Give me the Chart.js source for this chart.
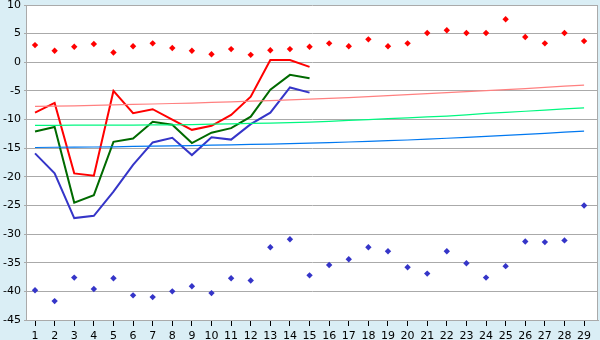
<!DOCTYPE html>
<html>
<head>
<meta charset="utf-8">
<script src="https://cdn.jsdelivr.net/npm/chart.js@4.4.1/dist/chart.umd.min.js"></script>
<style>
  html, body { margin: 0; padding: 0; background: #daeef5; overflow: hidden; }
  #wrap { width: 600px; height: 340px; overflow: hidden; }
</style>
</head>
<body>
<div id="wrap"><canvas id="chart1" width="602" height="340"></canvas></div>
<script>
// categories along the bottom
const days = [1, 2, 3, 4, 5, 6, 7, 8, 9, 10, 11, 12, 13, 14, 15, 16, 17, 18, 19, 20, 21, 22, 23, 24, 25, 26, 27, 28, 29];

// thick lines (first 15 days only)
const redLine = [-8.8, -7.1, -19.4, -19.8, -5.0, -8.9, -8.2, -10.0, -11.8, -11.1, -9.2, -6.0, 0.4, 0.4, -0.8];
const greenLine = [-12.1, -11.3, -24.5, -23.2, -13.9, -13.3, -10.4, -10.9, -14.1, -12.3, -11.5, -9.5, -4.8, -2.2, -2.8];
const blueLine = [-15.9, -19.4, -27.2, -26.8, -22.6, -17.9, -14.0, -13.2, -16.2, -13.1, -13.5, -10.8, -8.8, -4.4, -5.3];

// thin trend lines
const redTrend = [-7.69, -7.66, -7.60, -7.52, -7.43, -7.36, -7.29, -7.20, -7.12, -7.01, -6.91, -6.80, -6.68, -6.56, -6.43,
  -6.29, -6.17, -6.00, -5.82, -5.65, -5.47, -5.30, -5.12, -4.95, -4.77, -4.60, -4.39, -4.18, -3.99];
const greenTrend = [-11.01, -11.01, -10.99, -10.99, -10.98, -10.96, -10.94, -10.93, -10.89, -10.80, -10.75, -10.66, -10.63, -10.54, -10.45,
  -10.31, -10.16, -10.02, -9.84, -9.70, -9.55, -9.39, -9.18, -8.93, -8.74, -8.55, -8.36, -8.13, -7.95];
const blueTrend = [-14.88, -14.84, -14.83, -14.79, -14.76, -14.70, -14.65, -14.60, -14.55, -14.48, -14.42, -14.35, -14.28, -14.21, -14.13,
  -14.02, -13.92, -13.81, -13.69, -13.57, -13.43, -13.27, -13.11, -12.94, -12.76, -12.59, -12.40, -12.20, -12.03];

// scattered markers
const redDots = [3.0, 2.0, 2.7, 3.2, 1.7, 2.8, 3.3, 2.5, 2.0, 1.4, 2.3, 1.3, 2.1, 2.3, 2.7,
  3.3, 2.8, 4.0, 2.8, 3.3, 5.1, 5.6, 5.1, 5.1, 7.5, 4.4, 3.3, 5.1, 3.7];
const blueDots = [-39.8, -41.7, -37.6, -39.6, -37.7, -40.7, -41.0, -40.0, -39.1, -40.3, -37.7, -38.1, -32.3, -30.9, -37.2,
  -35.4, -34.4, -32.3, -33.0, -35.8, -36.9, -33.0, -35.1, -37.6, -35.6, -31.3, -31.4, -31.1, -25.0];

function toPoints(values) {
  return values.map((v, i) => ({ x: days[i], y: v }));
}

function lineSet(values, color, width) {
  return {
    data: toPoints(values),
    borderColor: color,
    borderWidth: width,
    pointRadius: 0,
    tension: 0,
    fill: false
  };
}

function dotSet(values, color) {
  return {
    data: toPoints(values),
    showLine: false,
    pointStyle: 'rectRot',
    pointRadius: 3.2,
    pointBorderWidth: 0,
    pointBackgroundColor: color,
    borderColor: color
  };
}

const plotBackground = {
  id: 'plotBackground',
  beforeDraw(chart) {
    const c = chart.ctx;
    const a = chart.chartArea;
    c.save();
    c.fillStyle = '#daeef5';
    c.fillRect(0, 0, chart.width, chart.height);
    c.fillStyle = '#ffffff';
    c.fillRect(a.left, a.top, a.right - a.left, a.bottom - a.top);
    c.restore();
  },
  beforeDatasetsDraw(chart) {
    const c = chart.ctx;
    const a = chart.chartArea;
    c.save();
    c.strokeStyle = '#aaaaaa';
    c.lineWidth = 1;
    c.beginPath();
    c.moveTo(Math.round(a.right) - 0.5, a.top);
    c.lineTo(Math.round(a.right) - 0.5, a.bottom);
    c.stroke();
    c.restore();
  }
};

Chart.defaults.font.family = 'DejaVu Sans';
Chart.defaults.font.size = 11;
Chart.defaults.color = '#000000';

new Chart(document.getElementById('chart1'), {
  type: 'line',
  data: {
    datasets: [
      lineSet(redTrend, '#ff8080', 1.2),
      lineSet(greenTrend, '#00f880', 1.2),
      lineSet(blueTrend, '#0078f0', 1.2),
      lineSet(redLine, '#ff0000', 2),
      lineSet(greenLine, '#006a00', 2),
      lineSet(blueLine, '#3535c8', 2),
      dotSet(redDots, '#ff0000'),
      dotSet(blueDots, '#3535c8')
    ]
  },
  options: {
    responsive: false,
    animation: false,
    events: [],
    layout: { padding: { top: 5, right: 0, bottom: 0, left: 0 } },
    plugins: {
      legend: { display: false },
      tooltip: { enabled: false }
    },
    scales: {
      x: {
        type: 'linear',
        min: 0.54,
        max: 29.71,
        afterFit: (scale) => {
          scale.height = 20;
          scale.paddingLeft = 0;
          scale.paddingRight = 0;
        },
        afterBuildTicks: (scale) => { scale.ticks = days.map(d => ({ value: d })); },
        grid: { drawOnChartArea: false, tickLength: 6, color: '#000000' },
        border: { color: '#aaaaaa' },
        ticks: { padding: 4, maxRotation: 0, autoSkip: false }
      },
      y: {
        min: -45,
        max: 10,
        afterFit: (scale) => {
          scale.width = 26;
          scale.paddingTop = 0;
          scale.paddingBottom = 0;
        },
        grid: { color: '#aaaaaa', tickLength: 2 },
        border: { color: '#aaaaaa' },
        ticks: { stepSize: 5, padding: 3 }
      }
    }
  },
  plugins: [plotBackground]
});
</script>
</body>
</html>
